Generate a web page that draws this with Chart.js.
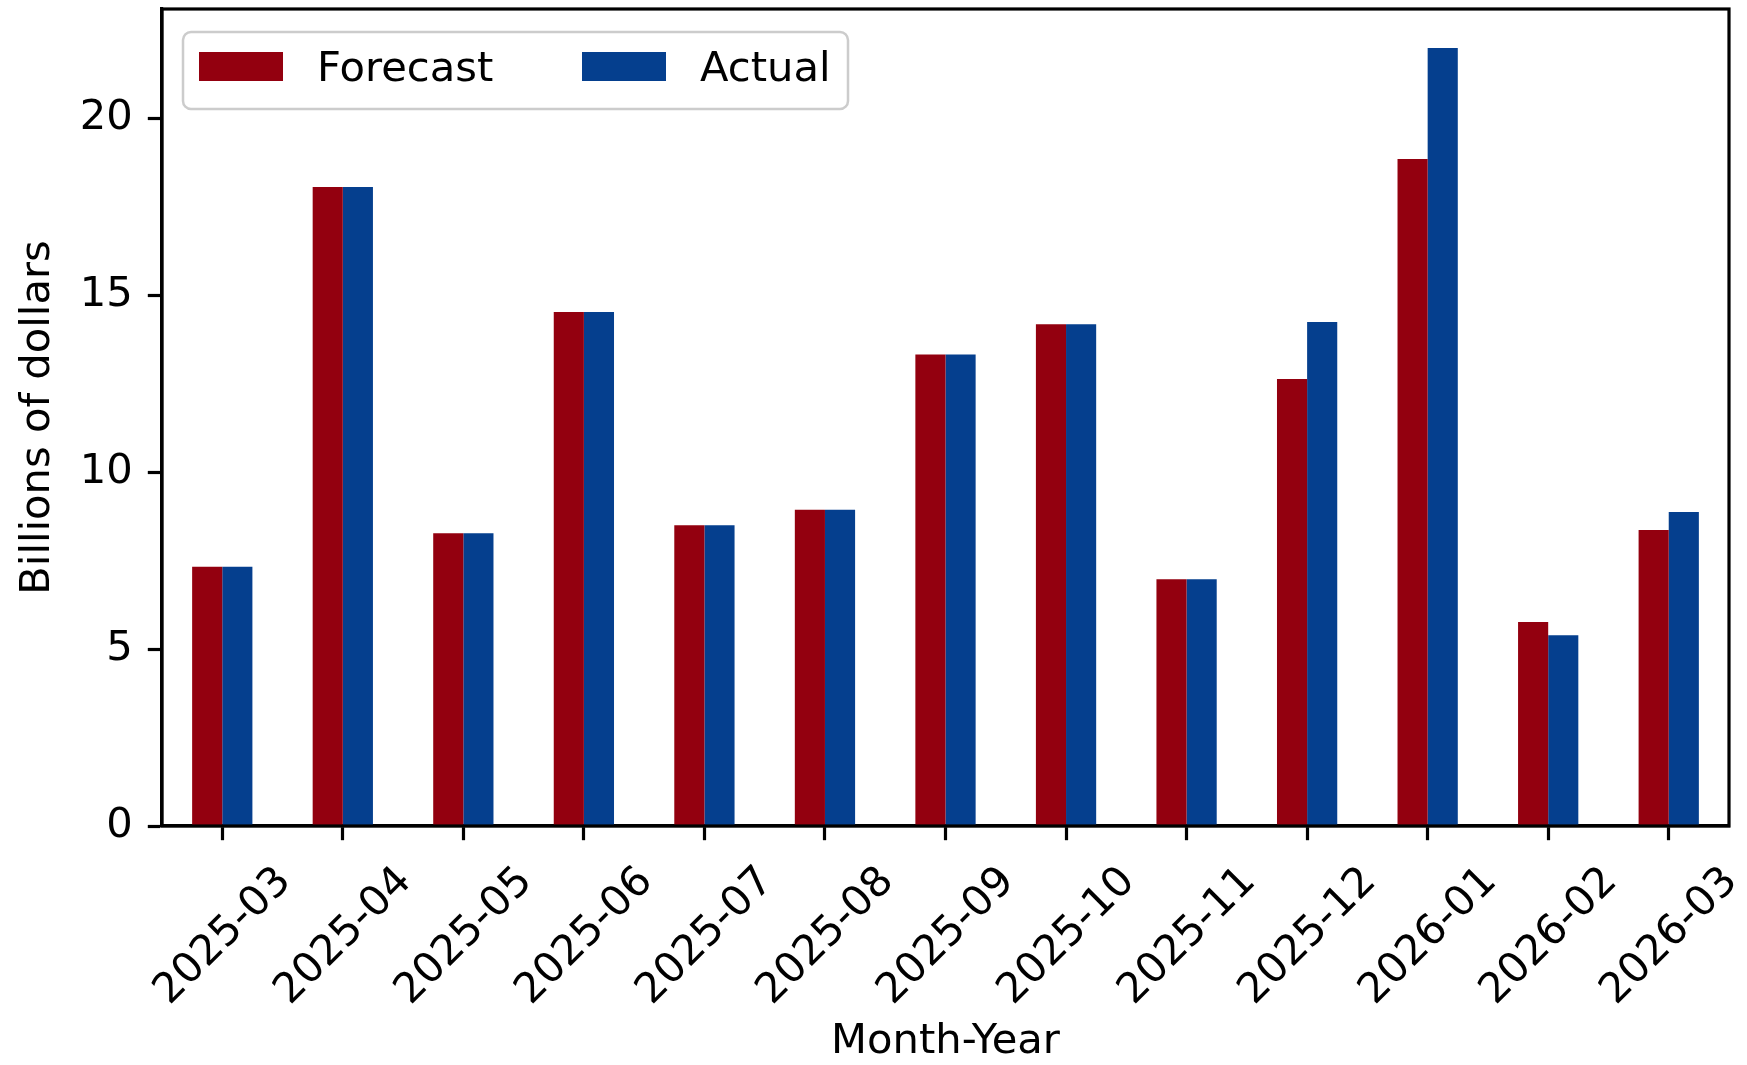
<!DOCTYPE html>
<html>
<head>
<meta charset="utf-8">
<script src="https://cdn.jsdelivr.net/npm/chart.js@4/dist/chart.umd.min.js"></script>
<style>
html,body{margin:0;padding:0;background:#ffffff;overflow:hidden}
canvas{display:block}
</style>
</head>
<body>
<canvas id="c" width="1747" height="1065" style="width:1747px;height:1065px"></canvas>
<script>
// ---- data ----
const categories = ['2025-03','2025-04','2025-05','2025-06','2025-07','2025-08','2025-09','2025-10','2025-11','2025-12','2026-01','2026-02','2026-03'];
const forecastValues = [7.33, 18.07, 8.28, 14.53, 8.50, 8.94, 13.33, 14.19, 6.98, 12.64, 18.86, 5.77, 8.37];
const actualValues   = [7.33, 18.07, 8.28, 14.53, 8.50, 8.94, 13.33, 14.19, 6.98, 14.25, 22.00, 5.39, 8.88];
const yTickValues = [0, 5, 10, 15, 20];
const seriesNames = ['Forecast', 'Actual'];
const seriesColors = ['#93000F', '#053F8E'];
const xAxisTitle = 'Month-Year';
const yAxisTitle = 'Billions of dollars';

// ---- style ----
const FONT_FAMILY = '"DejaVu Sans", sans-serif';
const FS = 41.67;
const AXIS_LW = 3.2;
const TICK_LEN = 14.2;

const framePlugin = {
  id: 'frame',
  afterDatasetsDraw(chart) {
    const {ctx, chartArea: a} = chart;
    ctx.save();
    ctx.strokeStyle = '#000';
    ctx.lineWidth = AXIS_LW;
    ctx.strokeRect(a.left, a.top, a.right - a.left, a.bottom - a.top);
    ctx.restore();
  }
};

const xLabelPlugin = {
  id: 'xlabels',
  afterDraw(chart) {
    const {ctx, chartArea: a} = chart;
    const xs = chart.scales.x;
    ctx.save();
    ctx.font = FS + 'px ' + FONT_FAMILY;
    ctx.fillStyle = '#000';
    ctx.textAlign = 'center';
    ctx.textBaseline = 'alphabetic';
    categories.forEach((lab, i) => {
      const x = xs.getPixelForTick(i) - 2;
      const y = a.bottom + 107.5;
      ctx.save();
      ctx.translate(x, y);
      ctx.rotate(-Math.PI / 4);
      ctx.fillText(lab, 0, 0.365 * FS);
      ctx.restore();
    });
    ctx.restore();
  }
};

const legendPlugin = {
  id: 'customLegend',
  afterDraw(chart) {
    const {ctx, chartArea: a} = chart;
    const bx = a.left + 21, by = a.top + 23, bw = 665, bh = 77, r = 8;
    ctx.save();
    ctx.beginPath();
    ctx.moveTo(bx + r, by);
    ctx.lineTo(bx + bw - r, by);
    ctx.arcTo(bx + bw, by, bx + bw, by + r, r);
    ctx.lineTo(bx + bw, by + bh - r);
    ctx.arcTo(bx + bw, by + bh, bx + bw - r, by + bh, r);
    ctx.lineTo(bx + r, by + bh);
    ctx.arcTo(bx, by + bh, bx, by + bh - r, r);
    ctx.lineTo(bx, by + r);
    ctx.arcTo(bx, by, bx + r, by, r);
    ctx.closePath();
    ctx.fillStyle = 'rgba(255,255,255,0.8)';
    ctx.fill();
    ctx.strokeStyle = '#cccccc';
    ctx.lineWidth = 2.5;
    ctx.stroke();

    const items = chart.data.datasets.map(d => ({label: d.label, color: d.backgroundColor}));
    const swX = [a.left + 37, a.left + 420];
    const txX = [a.left + 155, a.left + 538];
    ctx.font = FS + 'px ' + FONT_FAMILY;
    ctx.textBaseline = 'alphabetic';
    ctx.textAlign = 'left';
    items.forEach((it, i) => {
      ctx.fillStyle = it.color;
      ctx.fillRect(swX[i], a.top + 43, 84, 29);
      ctx.fillStyle = '#000';
      ctx.fillText(it.label, txX[i], a.top + 72);
    });
    ctx.restore();
  }
};

const chart = new Chart(document.getElementById('c'), {
  type: 'bar',
  data: {
    labels: categories,
    datasets: [
      { label: seriesNames[0], data: forecastValues, backgroundColor: seriesColors[0], borderWidth: 0, categoryPercentage: 0.5, barPercentage: 1.0 },
      { label: seriesNames[1], data: actualValues, backgroundColor: seriesColors[1], borderWidth: 0, categoryPercentage: 0.5, barPercentage: 1.0 }
    ]
  },
  options: {
    responsive: false,
    animation: false,
    devicePixelRatio: 1,
    layout: { padding: { left: 0, top: 9, right: 18, bottom: 0 } },
    plugins: {
      legend: { display: false },
      tooltip: { enabled: false }
    },
    scales: {
      x: {
        type: 'category',
        offset: true,
        grid: { offset: false, drawOnChartArea: false, drawTicks: true, tickLength: TICK_LEN, tickWidth: AXIS_LW, tickColor: '#000' },
        border: { display: true, color: '#000', width: AXIS_LW },
        ticks: { display: false },
        title: { display: true, text: xAxisTitle, color: '#000', font: { family: FONT_FAMILY, size: FS, lineHeight: 1.0 }, padding: { top: 0, bottom: 1.6 } },
        afterFit(scale) { scale.height = 239; scale.paddingLeft = 0; scale.paddingRight = 0; }
      },
      y: {
        type: 'linear',
        min: 0,
        max: 23.1,
        afterBuildTicks(scale) { scale.ticks = yTickValues.map(v => ({ value: v })); },
        grid: { drawOnChartArea: false, drawTicks: true, tickLength: TICK_LEN, tickWidth: AXIS_LW, tickColor: '#000' },
        border: { display: true, color: '#000', width: AXIS_LW },
        ticks: { color: '#000', font: { family: FONT_FAMILY, size: FS }, padding: 15 },
        title: { display: true, text: yAxisTitle, color: '#000', font: { family: FONT_FAMILY, size: FS, lineHeight: 1.2 }, padding: { top: 13.6, bottom: 0 } },
        afterFit(scale) { scale.width = 162; scale.paddingTop = 0; scale.paddingBottom = 0; }
      }
    }
  },
  plugins: [framePlugin, xLabelPlugin, legendPlugin]
});
</script>
</body>
</html>
